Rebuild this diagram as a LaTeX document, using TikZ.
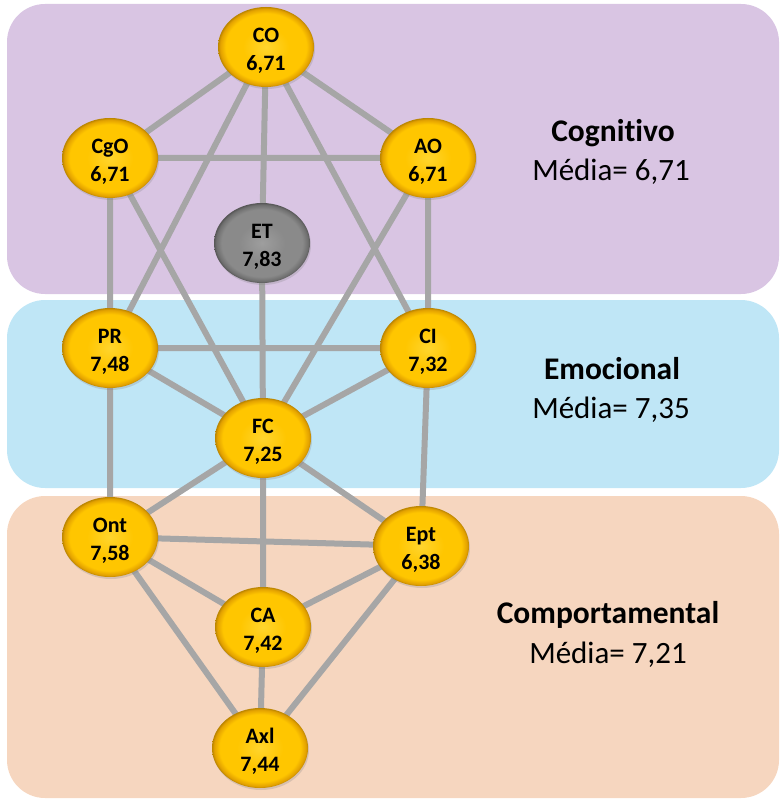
\documentclass[tikz,border=0pt]{standalone}
\usepackage{fontspec}
\setmainfont{Carlito}[Ligatures=CommonOff]
\usetikzlibrary{shapes.geometric,shadows}

\pgfdeclarelayer{bands}
\pgfdeclarelayer{links}
\pgfsetlayers{bands,links,main}

\definecolor{lav}{HTML}{D9C5E3}
\definecolor{sky}{HTML}{BFE6F6}
\definecolor{peach}{HTML}{F6D6BF}
\definecolor{linkgray}{HTML}{A6A6A6}

\definecolor{goldA}{HTML}{FFD52E}
\definecolor{goldB}{HTML}{FFC600}
\definecolor{goldC}{HTML}{E2A000}
\definecolor{goldD}{HTML}{B98400}
\definecolor{greyA}{HTML}{9E9E9E}
\definecolor{greyB}{HTML}{8A8A8A}
\definecolor{greyC}{HTML}{6E6E6E}
\definecolor{greyD}{HTML}{555555}

\pgfdeclareradialshading{goldknob}{\pgfpoint{0bp}{0bp}}{%
  color(0bp)=(goldA); color(12bp)=(goldB); color(21bp)=(goldB);
  color(24bp)=(goldC); color(25bp)=(goldD); color(50bp)=(goldD)}
\pgfdeclareradialshading{greyknob}{\pgfpoint{0bp}{0bp}}{%
  color(0bp)=(greyA); color(12bp)=(greyB); color(21bp)=(greyB);
  color(24bp)=(greyC); color(25bp)=(greyD); color(50bp)=(greyD)}

\tikzset{
  knob/.style={ellipse, minimum width=96pt, minimum height=80pt, inner sep=0pt,
    shading=goldknob, align=center,
    font=\bfseries\fontsize{22}{28}\selectfont,
    text height=51pt, text depth=4pt,
    drop shadow={opacity=0.25, shadow xshift=1pt, shadow yshift=-2pt}},
  greyknobnode/.style={knob, shading=greyknob},
  link/.style={draw=linkgray, line width=6pt},
  band/.style={rounded corners=38pt},
  areatitle/.style={anchor=base, font=\bfseries\fontsize{31.5}{36}\selectfont},
  areamean/.style={anchor=base, font=\fontsize{31}{36}\selectfont}
}

\begin{document}
\begin{tikzpicture}[x=1pt, y=-1pt]
  \useasboundingbox (0,0) rectangle (780,799);

  % coloured bands
  \begin{pgfonlayer}{bands}
    \fill[lav, band] (7,4) rectangle (779,294);
    \fill[sky, band] (7,300) rectangle (779,488);
    \fill[peach, band] (7,496) rectangle (779,798);
  \end{pgfonlayer}

  % nodes
  \node[knob] (CO)  at (266,47)  {CO\\6,71};
  \node[knob] (CgO) at (110,158) {CgO\\6,71};
  \node[knob] (AO)  at (428,158) {AO\\6,71};
  \node[greyknobnode] (ET) at (262,243) {ET\\7,83};
  \node[knob] (PR)  at (110,348) {PR\\7,48};
  \node[knob] (CI)  at (428,348) {CI\\7,32};
  \node[knob] (FC)  at (263,438) {FC\\7,25};
  \node[knob] (Ont) at (110,537) {Ont\\7,58};
  \node[knob] (Ept) at (421,546) {Ept\\6,38};
  \node[knob] (CA)  at (263,627) {CA\\7,42};
  \node[knob] (Axl) at (260,748) {Axl\\7,44};

  % connectors
  \begin{pgfonlayer}{links}
    \path[link] (CO.center) -- (CgO.center)
                (CO.center) -- (AO.center)
                (CO.center) -- (ET.center)
                (CO.center) -- (PR.center)
                (CO.center) -- (CI.center)
                (CgO.center) -- (AO.center)
                (CgO.center) -- (PR.center)
                (CgO.center) -- (FC.center)
                (AO.center) -- (CI.center)
                (AO.center) -- (FC.center)
                (ET.center) -- (FC.center)
                (PR.center) -- (CI.center)
                (PR.center) -- (FC.center)
                (PR.center) -- (Ont.center)
                (CI.center) -- (FC.center)
                (CI.center) -- (Ept.center)
                (FC.center) -- (Ont.center)
                (FC.center) -- (Ept.center)
                (FC.center) -- (CA.center)
                (Ont.center) -- (Ept.center)
                (Ont.center) -- (CA.center)
                (Ont.center) -- (Axl.center)
                (Ept.center) -- (CA.center)
                (Ept.center) -- (Axl.center)
                (CA.center) -- (Axl.center);
  \end{pgfonlayer}

  % area labels
  \node[areatitle] (t1) at (613,142) {Cognitivo};
  \node[areamean]  (m1) at (611,181) {Média= 6,71};
  \node[areatitle] (t2) at (612,379) {Emocional};
  \node[areamean]  (m2) at (611,418) {Média= 7,35};
  \node[areatitle] (t3) at (608,623) {Comportamental};
  \node[areamean]  (m3) at (608,663) {Média= 7,21};
\end{tikzpicture}
\end{document}
